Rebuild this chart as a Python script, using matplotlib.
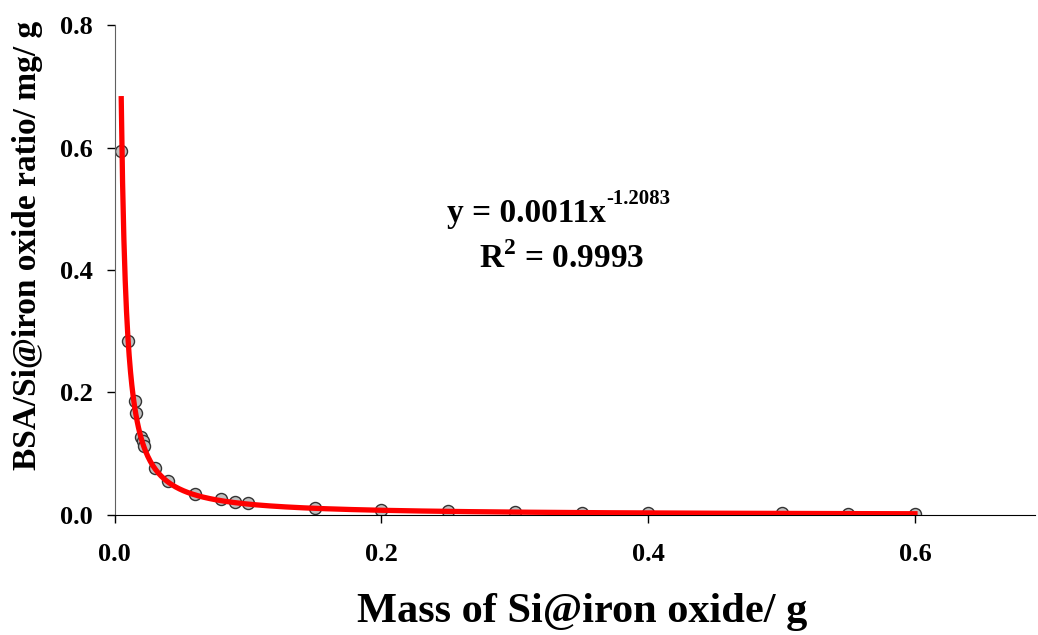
import numpy as np
import matplotlib
matplotlib.use('Agg')
import matplotlib.pyplot as plt
import matplotlib.ticker

matplotlib.rcParams['font.family'] = 'Liberation Serif'
matplotlib.rcParams['font.weight'] = 'bold'
matplotlib.rcParams['mathtext.fontset'] = 'custom'
matplotlib.rcParams['mathtext.rm'] = 'Liberation Serif:bold'
matplotlib.rcParams['mathtext.bf'] = 'Liberation Serif:bold'

# measured ratio vs. mass of particles
mass = [0.005, 0.010, 0.015, 0.016, 0.020, 0.021, 0.022, 0.030, 0.040,
        0.060, 0.080, 0.090, 0.100, 0.150, 0.200, 0.250, 0.300, 0.350,
        0.400, 0.500, 0.550, 0.600]
ratio = [0.595, 0.284, 0.186, 0.167, 0.128, 0.121, 0.113, 0.077, 0.055,
         0.035, 0.026, 0.022, 0.019, 0.011, 0.008, 0.006, 0.005, 0.004,
         0.0035, 0.0025, 0.0023, 0.002]

# power trendline y = a * x^b
fit_a = 0.0011
fit_b = -1.2083
fit_r2 = 0.9993
fit_range = (0.0049, 0.6)

xticks = [0.0, 0.2, 0.4, 0.6]
yticks = [0.0, 0.2, 0.4, 0.6, 0.8]

fig = plt.figure(figsize=(10.38, 6.35), dpi=100)
ax = fig.add_axes([0.1105, 0.189, 0.8866, 0.7716])

ax.scatter(mass, ratio, s=75, facecolor='#c0c0c0', edgecolor='#333333',
           linewidth=1.0, zorder=2)

xf = np.linspace(fit_range[0], fit_range[1], 600)
ax.plot(xf, fit_a * xf ** fit_b, color='#ff0000', linewidth=3.8, zorder=3)

# trendline equation, exponent written as a separate superscript
eq = ax.text(0.361, 0.5986, 'y = %.4fx' % fit_a, transform=ax.transAxes,
             ha='left', va='baseline', fontsize=24, fontweight='bold')
ax.annotate('%.4f' % fit_b, xy=(1.0, 0.0), xycoords=eq,
            xytext=(0.5, 17.5), textcoords='offset points',
            ha='left', va='baseline', fontsize=15, fontweight='bold')
ax.text(0.396, 0.504, r'R$^{\mathrm{2}}$ = %.4f' % fit_r2, transform=ax.transAxes,
        ha='left', va='baseline', fontsize=24, fontweight='bold')

ax.set_xlim(0, 0.69)
ax.set_ylim(0, 0.8)
ax.set_xticks(xticks)
ax.set_yticks(yticks)
ax.xaxis.set_major_formatter(matplotlib.ticker.FormatStrFormatter('%.1f'))
ax.yaxis.set_major_formatter(matplotlib.ticker.FormatStrFormatter('%.1f'))

ax.spines['top'].set_visible(False)
ax.spines['right'].set_visible(False)
ax.spines['left'].set_color('#606060')
ax.spines['bottom'].set_color('black')
ax.tick_params(axis='x', direction='out', length=6, width=1, pad=14, labelsize=19)
ax.tick_params(axis='y', direction='out', length=6, width=1, pad=10, labelsize=19)
for lab in ax.get_xticklabels() + ax.get_yticklabels():
    lab.set_fontweight('bold')

ax.set_xlabel('Mass of Si@iron oxide/ g', fontsize=30.5, fontweight='bold')
ax.xaxis.set_label_coords(0.508, -0.159)
ax.set_ylabel('BSA/Si@iron oxide ratio/ mg/ g', fontsize=24, fontweight='bold')
ax.yaxis.set_label_coords(-0.078, 0.551)

plt.savefig('out.png', dpi=100)
